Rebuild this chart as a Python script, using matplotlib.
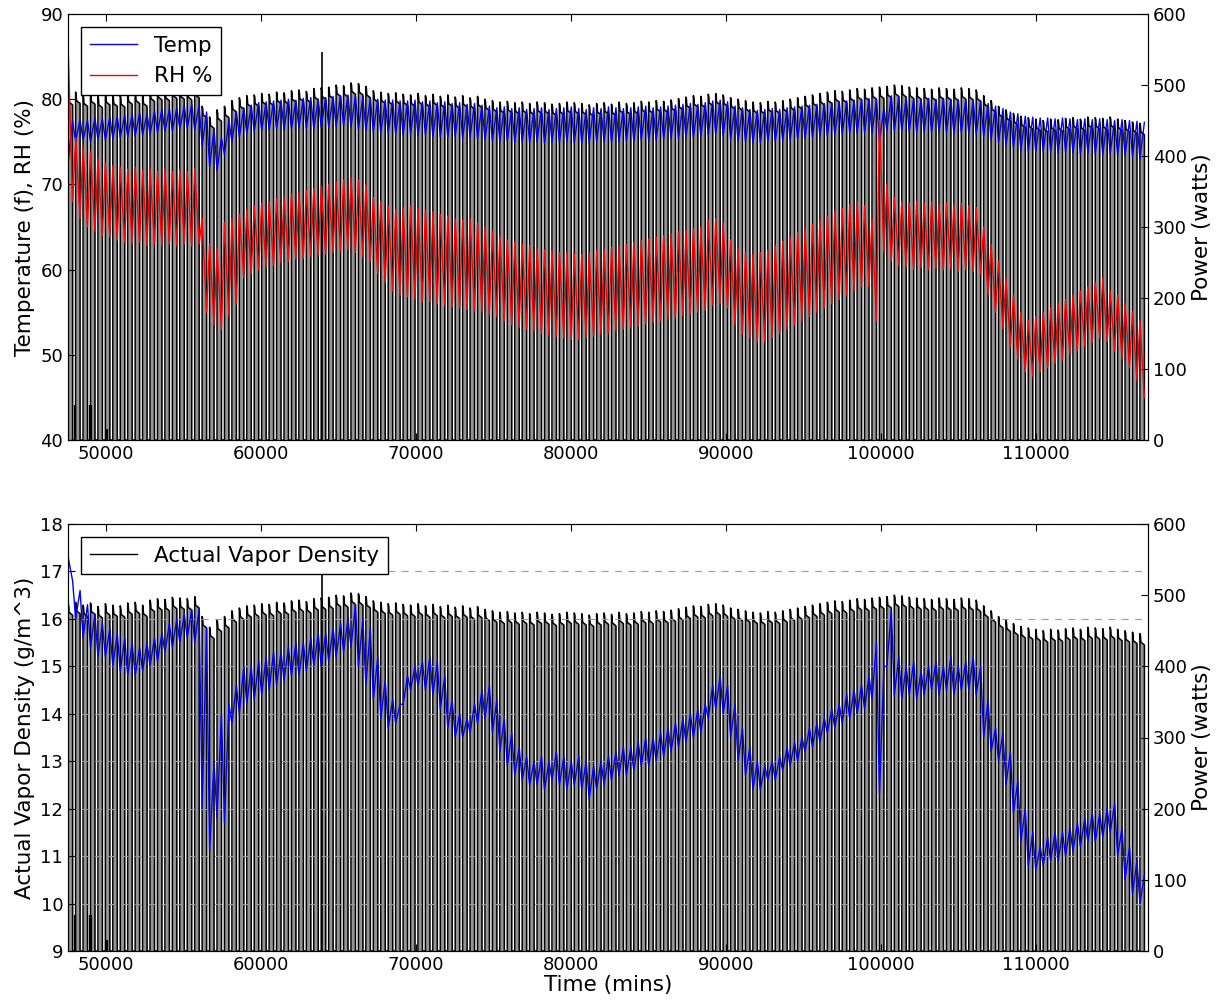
import numpy as np
import matplotlib
matplotlib.use('Agg')
import matplotlib.pyplot as plt
from matplotlib.lines import Line2D

# ---------------- data ----------------
T0 = 47560          # first heating-cycle start (mins)
PERIOD = 480        # heating cycle length (mins)
ON_FRAC = 0.6       # fraction of each cycle the heater is on

# peak power of each heating cycle (watts)
power_peak = [488, 490, 486, 489, 484, 488, 486, 485, 489, 490, 486, 493, 495, 494, 497, 496, 495, 498,
              470, 455, 465, 470, 478,
              482, 485, 486, 488, 487, 490, 489, 492, 493, 491, 495, 496, 497, 500, 499,
              503, 502, 498,
              492, 490, 488, 489, 487, 486, 488, 485, 487, 484, 486, 483, 485, 482, 484, 480,
              478, 476, 477, 475, 476, 474, 476, 475, 473, 474, 476, 475, 474, 472, 474, 475, 473, 476,
              474, 475, 477, 476, 478, 477, 479, 481, 483, 485, 484,
              487, 488, 486,
              482, 480, 478, 476, 475, 477, 476, 478, 480, 482, 484, 486,
              488, 490, 492, 491, 493, 495, 494, 496, 497, 498, 500, 499, 497, 496, 495, 494, 496, 495,
              494, 496, 495, 493,
              485, 478, 470, 465, 460,
              456, 454, 452, 450, 452, 451, 453, 454, 452, 455, 454, 453, 455, 452, 450, 448, 446]

# short low-power pulses and single spikes (time, watts)
pulse_time = [48010, 49000, 49060, 50090]
pulse_watts = [50, 50, 50, 15]
spike_time = [63955]
spike_watts = [547]

# temperature (F): cycle maximum / minimum
temp_hi = [77.5, 77.6, 77.5, 77.8, 77.7, 77.9, 78.0, 78.1, 78.2, 78.4, 78.3, 78.6, 78.8, 78.9, 79.0, 79.2, 79.4, 79.3,
           78.5, 76.5, 75.5, 77.5, 78.5,
           79.0, 79.3, 79.6, 79.7, 79.8, 79.9, 80.0, 79.9, 80.1, 80.2, 80.0, 80.2, 80.3, 80.4, 80.5,
           80.4, 80.3, 80.1,
           80.0, 79.9, 79.9, 79.8, 79.8, 79.9, 79.7, 79.8, 79.6, 79.7, 79.5, 79.6, 79.4, 79.5, 79.3, 79.2,
           79.0, 79.1, 78.9, 79.0, 78.8, 78.9, 79.0, 78.8, 78.9, 79.0, 79.1, 78.9, 78.8, 79.0, 78.9, 79.1,
           79.0, 78.9, 79.0, 79.1, 79.2, 79.0, 79.1, 79.2, 79.3, 79.4, 79.5, 79.4, 79.6,
           79.8, 79.9, 79.7,
           79.2, 79.0, 78.8, 78.7, 78.8, 78.9, 78.8, 79.0, 79.1, 79.2, 79.3, 79.4,
           79.5, 79.6, 79.7, 79.8, 79.9, 80.0, 80.1, 80.0, 79.0, 80.4, 80.3, 80.2, 80.1, 80.0, 80.1, 80.0,
           80.1, 80.0, 79.9, 80.0, 79.9, 79.8,
           79.5, 79.2, 78.9, 78.5, 78.3,
           78.0, 77.9, 77.8, 77.8, 77.7, 77.8, 77.7, 77.6, 77.7, 77.6, 77.7, 77.6, 77.5, 77.6, 77.5, 77.4, 77.3]
temp_lo = [72.7, 75.0, 75.2, 75.0, 75.3, 75.2, 75.4, 75.5, 75.6, 75.7, 75.8, 75.9, 76.1, 76.2, 76.3, 76.5, 76.6, 76.4,
           74.5, 72.0, 71.6, 73.5, 75.0,
           75.6, 75.9, 76.2, 76.3, 76.4, 76.5, 76.4, 76.5, 76.6, 76.6, 76.5, 76.7, 76.8, 76.8, 76.9,
           76.7, 76.5, 76.3,
           76.2, 76.0, 76.0, 75.9, 75.8, 75.9, 75.7, 75.8, 75.6, 75.6, 75.5, 75.6, 75.4, 75.5, 75.3, 75.2,
           75.1, 75.0, 75.1, 74.9, 75.0, 74.9, 75.0, 74.8, 75.0, 74.9, 75.0, 74.9, 74.8, 74.9, 75.0, 75.0,
           74.9, 75.0, 75.1, 75.0, 75.2, 75.1, 75.2, 75.3, 75.4, 75.4, 75.5, 75.5, 75.6,
           75.8, 75.9, 75.7,
           75.3, 75.1, 75.0, 74.9, 74.9, 75.0, 75.0, 75.1, 75.2, 75.3, 75.4, 75.5,
           75.6, 75.7, 75.8, 75.9, 76.0, 76.0, 76.1, 76.0, 75.0, 76.3, 76.3, 76.2, 76.2, 76.1, 76.2, 76.1,
           76.2, 76.1, 76.0, 76.1, 76.0, 75.9,
           75.6, 75.2, 74.9, 74.6, 74.3,
           74.0, 73.9, 73.8, 73.9, 73.8, 73.7, 73.8, 73.7, 73.6, 73.7, 73.6, 73.5, 73.6, 73.5, 73.4, 73.3, 73.0]

# relative humidity (%): cycle maximum / minimum
rh_hi = [86.0, 75.5, 74.5, 73.8, 73.0, 72.5, 72.2, 72.0, 71.8, 72.0, 71.6, 71.8, 71.5, 71.8, 71.5, 71.7, 71.5, 71.8,
         66.0, 63.0, 62.5, 65.5, 66.0,
         66.5, 67.0, 67.5, 67.8, 68.0, 68.3, 68.5, 68.8, 69.0, 69.3, 69.5, 69.8, 70.0, 70.3, 70.5,
         70.8, 70.5, 70.0,
         68.5, 68.0, 67.5, 67.0, 67.3, 67.5, 67.2, 67.0, 66.8, 66.5, 66.3, 66.0, 65.8, 66.0, 65.5, 65.0,
         64.5, 64.0, 63.5, 63.2, 63.0, 62.8, 62.5, 62.3, 62.2, 62.0, 62.0, 61.8, 61.8, 62.0, 62.2, 62.4,
         62.6, 62.8, 63.0, 63.2, 63.4, 63.6, 63.8, 64.0, 64.2, 64.4, 64.6, 64.8, 65.0,
         65.8, 66.0, 65.5,
         63.5, 62.5, 62.0, 61.8, 62.0, 62.3, 62.8, 63.3, 63.8, 64.3, 64.8, 65.3,
         65.8, 66.3, 66.8, 67.2, 67.6, 68.0, 67.5, 66.0, 77.5, 70.0, 68.5, 68.0, 67.8, 68.0, 67.8, 67.9,
         67.7, 67.8, 67.6, 67.8, 67.5, 67.3,
         65.0, 63.0, 61.0, 59.0, 57.0,
         55.0, 54.0, 54.5, 55.0, 55.5, 56.0, 56.5, 57.0, 57.5, 58.0, 58.5, 59.0, 57.5, 57.0, 56.0, 55.0, 54.0]
rh_lo = [68.0, 66.0, 65.0, 64.5, 64.0, 63.8, 63.5, 63.2, 63.0, 63.2, 62.8, 63.0, 62.8, 63.0, 62.8, 63.0, 62.8, 63.0,
         55.0, 53.5, 53.0, 54.5, 56.0,
         59.0, 59.5, 60.0, 60.3, 60.5, 60.8, 61.0, 61.2, 61.3, 61.5, 61.7, 61.8, 62.0, 62.2, 62.3,
         62.0, 61.5, 61.0,
         59.5, 58.5, 57.5, 57.0, 56.8, 56.5, 56.3, 56.2, 56.0, 55.8, 55.6, 55.5, 55.3, 55.2, 55.0, 54.8,
         54.5, 54.0, 53.5, 53.2, 53.0, 52.8, 52.5, 52.3, 52.2, 52.0, 51.8, 51.8, 52.0, 52.2, 52.4, 52.6,
         52.8, 53.0, 53.2, 53.4, 53.6, 53.8, 54.0, 54.2, 54.4, 54.6, 54.8, 55.0, 55.2,
         55.8, 56.0, 55.5,
         53.5, 52.5, 52.0, 51.5, 51.5, 52.0, 52.5, 53.0, 53.5, 54.0, 54.5, 55.0,
         55.5, 56.0, 56.5, 57.0, 57.5, 58.0, 58.0, 54.0, 62.0, 61.0, 60.5, 60.3, 60.0, 60.2, 60.0, 60.1,
         60.0, 60.1, 59.8, 60.0, 59.8, 59.5,
         57.0, 55.0, 53.0, 51.0, 49.5,
         48.0, 47.5, 48.0, 48.5, 49.0, 49.5, 50.0, 50.5, 51.0, 51.5, 52.0, 51.5, 50.5, 49.5, 48.5, 47.0, 45.0]

# actual vapor density (g/m^3): cycle minimum / maximum
vd_lo = [17.3, 16.0, 15.6, 15.4, 15.2, 15.2, 15.0, 14.9, 14.8, 14.8, 14.9, 15.0, 15.1, 15.3, 15.4, 15.5, 15.6, 15.5,
         12.0, 11.1, 11.8, 11.7, 13.8,
         14.0, 14.2, 14.3, 14.4, 14.5, 14.6, 14.7, 14.8, 14.8, 14.9, 15.0, 15.0, 15.1, 15.2, 15.3,
         15.4, 15.0, 14.6,
         14.3, 13.9, 13.7, 13.8,
         14.2, 14.5, 14.6, 14.5, 14.4, 14.1,
         13.7, 13.5, 13.5, 13.6,
         13.8, 13.9, 13.6,
         13.2, 12.9, 12.7, 12.6, 12.5,
         12.5, 12.4, 12.6, 12.5, 12.4, 12.5, 12.4, 12.2, 12.4, 12.5,
         12.6, 12.7, 12.7, 12.8, 12.9, 12.9, 13.0, 13.1, 13.2, 13.3, 13.4, 13.5, 13.6,
         13.9, 14.1, 14.0,
         13.5, 13.0, 12.7, 12.4, 12.4,
         12.6, 12.6, 12.8, 12.9, 13.0, 13.2, 13.3, 13.4, 13.6, 13.7, 13.8, 13.9, 14.0, 14.1,
         14.3, 12.3, 15.0,
         14.4, 14.3, 14.4, 14.3, 14.4, 14.5, 14.4, 14.5, 14.4, 14.5, 14.5, 14.4,
         13.5, 13.2,
         13.0, 12.5, 11.9, 11.3, 10.8, 10.7,
         10.8, 10.9, 10.9, 11.0, 11.1, 11.2, 11.3, 11.3, 11.4, 11.5,
         11.0, 10.5, 10.2, 10.0]
vd_hi = [16.8, 16.6, 16.3, 16.1, 15.9, 15.8, 15.7, 15.6, 15.5, 15.4, 15.5, 15.6, 15.7, 15.9, 16.0, 16.1, 16.2, 16.2,
         15.8, 13.0, 14.0, 14.2, 14.6,
         15.0, 15.0, 15.1, 15.2, 15.3, 15.3, 15.4, 15.5, 15.5, 15.6, 15.7, 15.7, 15.8, 15.9, 16.0,
         16.3, 16.0, 15.8,
         15.2, 14.7, 14.3, 14.2,
         14.8, 15.0, 15.1, 15.2, 15.1, 14.8,
         14.3, 14.0, 13.9, 14.2,
         14.5, 14.6, 14.3,
         13.9, 13.6, 13.3, 13.1, 13.0,
         13.1, 13.0, 13.2, 13.1, 13.0, 13.1, 13.0, 12.9, 13.0, 13.1,
         13.2, 13.3, 13.3, 13.4, 13.5, 13.5, 13.6, 13.7, 13.8, 13.9, 14.0, 14.1, 14.2,
         14.6, 14.8, 14.6,
         14.2, 13.7, 13.3, 13.0, 12.9,
         13.0, 13.1, 13.3, 13.4, 13.5, 13.7, 13.8, 13.9, 14.1, 14.2, 14.4, 14.5, 14.6, 14.8,
         15.5, 15.0, 16.2,
         15.2, 15.0, 15.1, 14.9, 15.0, 15.1, 15.0, 15.2, 15.0, 15.1, 15.2, 15.0,
         14.3, 13.7,
         13.6, 13.2, 12.6, 12.0, 11.5, 11.2,
         11.4, 11.5, 11.5, 11.6, 11.7, 11.8, 11.9, 11.9, 12.0, 12.1,
         11.6, 11.2, 10.9, 10.6]

XLIM = (47550, 117200)

# ---------------- build the sampled series ----------------
n = len(power_peak)
cycle_start = T0 + PERIOD * np.arange(n)
on_end = cycle_start + ON_FRAC * PERIOD

pt, pw = [], []
for t, e, pk in zip(cycle_start, on_end, power_peak):
    pt += [t, t, t + 0.07 * PERIOD, t + 0.12 * PERIOD, e, e]
    pw += [0, pk, pk - 3, pk - 12, pk - 16, 0]
pt = np.array(pt, float)
pw = np.array(pw, float)

st = np.ravel(np.column_stack([cycle_start, on_end]))
temp = np.ravel(np.column_stack([temp_lo, temp_hi]))
rh = np.ravel(np.column_stack([rh_hi, rh_lo]))
vd = np.ravel(np.column_stack([vd_lo, vd_hi]))

plt.rcParams['font.family'] = ['DejaVu Sans']
plt.rcParams['font.size'] = 13

fig = plt.figure(figsize=(12.23, 10.08), dpi=100, facecolor='white')
L, R = 68 / 1223, 1148 / 1223
ax1 = fig.add_axes([L, 1 - 440 / 1008, R - L, (440 - 14) / 1008])
ax3 = fig.add_axes([L, 1 - 951 / 1008, R - L, (951 - 524) / 1008])


def draw_power(axp):
    axp.fill_between(pt, 0, pw, color='k', alpha=0.42, lw=0, zorder=1)
    axp.plot(pt, pw, color='k', lw=1.1, zorder=2)
    axp.vlines(pulse_time, 0, pulse_watts, color='k', lw=1.6, zorder=2)
    axp.vlines(spike_time, 0, spike_watts, color='k', lw=1.2, zorder=2)
    axp.set_ylim(0, 600)
    axp.set_yticks([0, 100, 200, 300, 400, 500, 600])
    axp.set_ylabel('Power (watts)', fontsize=15.5)
    axp.tick_params(direction='in', length=5, labelsize=13)


for ax in (ax1, ax3):
    ax.set_xlim(*XLIM)
    ax.set_xticks([50000, 60000, 70000, 80000, 90000, 100000, 110000])
    ax.tick_params(direction='in', length=5, labelsize=13, top=True)

ax2 = ax1.twinx()
ax4 = ax3.twinx()
for a, b in ((ax1, ax2), (ax3, ax4)):
    draw_power(b)
    b.set_xlim(*XLIM)
    a.set_zorder(b.get_zorder() + 1)
    a.patch.set_visible(False)

# top panel
l_temp, = ax1.plot(st, temp, color='b', lw=1.0, label='Temp')
l_rh, = ax1.plot(st, rh, color='r', lw=1.0, label='RH %')
ax1.set_ylim(40, 90)
ax1.set_ylabel('Temperature (f), RH (%)', fontsize=15.5)
leg = ax1.legend([l_temp, l_rh], ['Temp', 'RH %'], loc='upper left', fontsize=15.5,
                 fancybox=False, framealpha=1, edgecolor='k', handlelength=2.2, borderaxespad=0.6)
leg.get_frame().set_linewidth(1.0)

# bottom panel
ax3.plot(st, vd, color='b', lw=1.0)
ax3.set_ylim(9, 18)
ax3.set_yticks(range(9, 19))
ax3.yaxis.grid(True, linestyle=(0, (6, 6)), color='0.6', lw=0.8)
ax3.set_axisbelow(True)
ax3.set_ylabel('Actual Vapor Density (g/m^3)', fontsize=15.5)
ax3.set_xlabel('Time (mins)', fontsize=15.5, labelpad=1)
leg2 = ax3.legend([Line2D([], [], color='k', lw=1.0)], ['Actual Vapor Density'],
                  loc='upper left', fontsize=15.5, fancybox=False, framealpha=1,
                  edgecolor='k', handlelength=2.2, borderaxespad=0.6)
leg2.get_frame().set_linewidth(1.0)

fig.savefig('out.png', dpi=100, facecolor='white')
